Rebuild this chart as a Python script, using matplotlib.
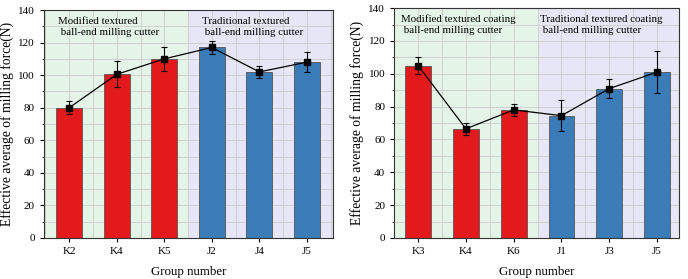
import numpy as np
import matplotlib.pyplot as plt
from matplotlib.ticker import MultipleLocator

plt.rcParams['font.family'] = ['Liberation Serif', 'DejaVu Serif']

# ── Data ──
groups_a = ['K2', 'K4', 'K5', 'J2', 'J4', 'J5']
force_a  = [80, 100.5, 110, 117, 102, 108]
err_a    = [4, 8, 7.5, 4.2, 3.5, 6]

groups_b = ['K3', 'K4', 'K6', 'J1', 'J3', 'J5']
force_b  = [105, 66.5, 78, 74.5, 91, 101]
err_b    = [5, 3.5, 3.5, 9.5, 6, 13]

labels_a = ('Modified textured\n ball-end milling cutter',
            'Traditional textured\n ball-end milling cutter')
labels_b = ('Modified textured coating\n ball-end milling cutter',
            'Traditional textured coating\n ball-end milling cutter')

RED   = '#e31a1c'
BLUE  = '#3a7cb8'
GREEN = '#e4f5e7'
LAV   = '#e6e6f6'

fig = plt.figure(figsize=(6.88, 2.79), dpi=100)


def panel(rect, groups, vals, errs, texts, text_x, xlim):
    ax = fig.add_axes(rect)
    x = np.arange(len(groups))
    ax.axvspan(-1, 2.5, color=GREEN, zorder=0, lw=0)
    ax.axvspan(2.5, 7, color=LAV, zorder=0, lw=0)
    colors = [RED] * 3 + [BLUE] * 3
    ax.bar(x, vals, width=0.54, color=colors, edgecolor='#555555',
           linewidth=0.6, zorder=2)
    ax.errorbar(x, vals, yerr=errs, color='black', lw=0.9, marker='s',
                ms=4.2, capsize=2.5, elinewidth=0.8, capthick=0.8, zorder=3)
    ax.set_xlim(*xlim)
    ax.set_ylim(0, 140)
    ax.set_xticks(x)
    ax.set_xticklabels(groups, fontsize=8)
    ax.xaxis.set_minor_locator(MultipleLocator(0.5))
    ax.yaxis.set_major_locator(MultipleLocator(20))
    ax.yaxis.set_minor_locator(MultipleLocator(10))
    ax.tick_params(axis='y', labelsize=8, direction='out', length=3, width=0.8)
    ax.tick_params(axis='y', which='minor', length=1.8, width=0.6)
    ax.tick_params(axis='x', which='major', direction='out', length=3, width=0.8)
    ax.tick_params(axis='x', which='minor', length=0)
    ax.set_axisbelow(True)
    ax.grid(True, which='both', color='#cccccc', lw=0.6, zorder=0.5)
    for sp in ax.spines.values():
        sp.set_linewidth(0.8)
        sp.set_color('#333333')
    ax.set_xlabel('Group number', fontsize=9.3, labelpad=7)
    ax.set_ylabel('Effective average of milling force(N)', fontsize=9.8,
                  labelpad=3)
    ax.text(text_x[0], 136, texts[0], fontsize=7.8, va='top', ha='left',
            linespacing=1.3)
    ax.text(text_x[1], 136, texts[1], fontsize=7.8, va='top', ha='left',
            linespacing=1.3)
    return ax


panel([0.064, 0.147, 0.42, 0.817], groups_a, force_a, err_a, labels_a,
      (-0.24, 2.8), (-0.53, 5.55))
panel([0.573, 0.147, 0.414, 0.824], groups_b, force_b, err_b, labels_b,
      (-0.36, 2.56), (-0.5, 5.46))

plt.savefig('out.png', dpi=100)
